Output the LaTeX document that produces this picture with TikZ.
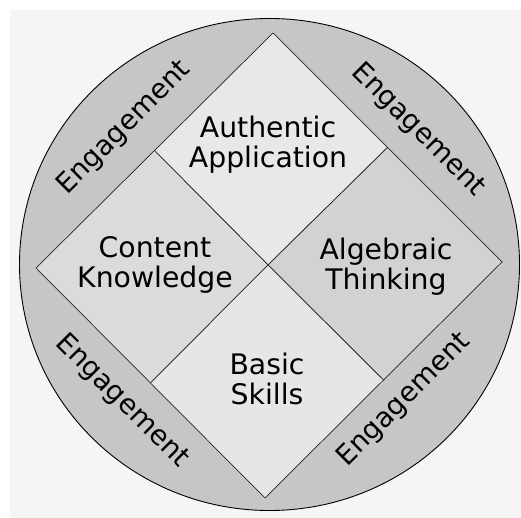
\documentclass[tikz,border=0pt]{standalone}
\usepackage{fontspec}
\setmainfont{DejaVu Sans}
\usetikzlibrary{calc}
\definecolor{paper}{HTML}{F5F5F5}
\definecolor{ringgray}{HTML}{C6C6C6}
\definecolor{quadA}{HTML}{E8E8E8}
\definecolor{quadC}{HTML}{DBDBDB}
\definecolor{quadT}{HTML}{D2D2D2}
\definecolor{quadB}{HTML}{E6E6E6}

\begin{document}
\begin{tikzpicture}[x=1pt, y=-1pt,
  quad/.style={fill=#1, draw=black!85, line width=0.7pt, line join=miter},
  topic/.style={align=center, inner sep=0pt, font=\fontsize{28.3}{30}\selectfont},
  ringlabel/.style={inner sep=0pt, font=\fontsize{27.5}{29}\selectfont}
]
  \useasboundingbox (0,0) rectangle (521,518);
  \fill[white] (0,0) rectangle (521,518);
  \fill[paper] (10,10) rectangle (521,518);

  % outer ring
  \filldraw[fill=ringgray, draw=black, line width=0.9pt] (269.5,264.5) ellipse [x radius=250pt, y radius=246pt];

  % diamond corners and the edge midpoints
  \coordinate (dT) at (273,33);
  \coordinate (dR) at (502,262);
  \coordinate (dB) at (265,498);
  \coordinate (dL) at (36,268);
  \coordinate (mid) at (268,265);
  \coordinate (mTL) at ($(dT)!0.5!(dL)$);
  \coordinate (mTR) at ($(dT)!0.5!(dR)$);
  \coordinate (mBR) at ($(dB)!0.5!(dR)$);
  \coordinate (mBL) at ($(dB)!0.5!(dL)$);

  \draw[quad=quadA] (dT) -- (mTR) -- (mid) -- (mTL) -- cycle;
  \draw[quad=quadC] (dL) -- (mTL) -- (mid) -- (mBL) -- cycle;
  \draw[quad=quadT] (dR) -- (mTR) -- (mid) -- (mBR) -- cycle;
  \draw[quad=quadB] (dB) -- (mBL) -- (mid) -- (mBR) -- cycle;

  \node[topic] (auth) at (268,145) {Authentic\\Application};
  \node[topic] (cont) at (155,265) {Content\\Knowledge};
  \node[topic] (alg) at (386,267) {Algebraic\\Thinking};
  \node[topic] (basic) at (267,379) {Basic\\Skills};

  % engagement all round the ring
  \node[ringlabel, rotate=45] (engTL) at (124,128) {Engagement};
  \node[ringlabel, rotate=-45] (engTR) at (418,130) {Engagement};
  \node[ringlabel, rotate=-45] (engBL) at (122,401) {Engagement};
  \node[ringlabel, rotate=45] (engBR) at (404,400) {Engagement};
\end{tikzpicture}
\end{document}
